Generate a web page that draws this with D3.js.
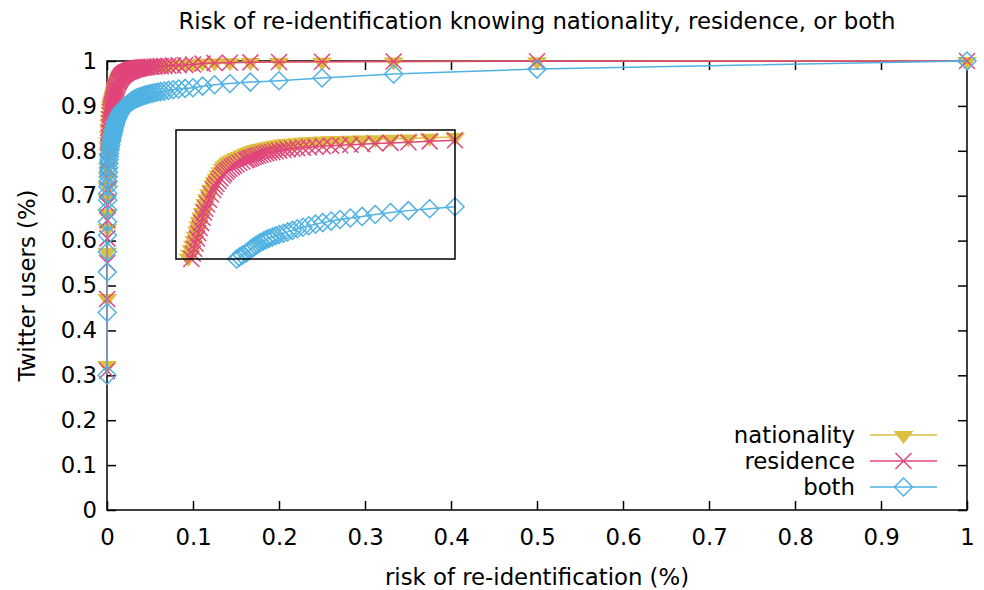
<!DOCTYPE html>
<html>
<head>
<meta charset="utf-8">
<script src="https://cdn.jsdelivr.net/npm/d3@7"></script>
<style>
  body { margin: 0; background: #fff; }
  svg text { font-family: "DejaVu Sans", sans-serif; }
</style>
</head>
<body>
<script>
// risk of re-identification levels (1 / size of anonymity set)
var riskLevels = [1, 0.5, 0.3333, 0.25, 0.2, 0.1667, 0.1429, 0.125, 0.1111, 0.1,
  0.0909, 0.0833, 0.0769, 0.0714, 0.0667, 0.0625, 0.0588, 0.0556, 0.0526, 0.05,
  0.0476, 0.0455, 0.0435, 0.0417, 0.04, 0.0385, 0.037, 0.0357, 0.0345, 0.0333,
  0.0323, 0.0313, 0.0303, 0.0294, 0.0286, 0.0278, 0.027, 0.0263, 0.0256, 0.025,
  0.0238, 0.0227, 0.0217, 0.0208, 0.02, 0.0192, 0.0185, 0.0179, 0.0172, 0.0167,
  0.0159, 0.0152, 0.0145, 0.0139, 0.0133, 0.0125, 0.0118, 0.0111, 0.0105, 0.01,
  0.0095, 0.009, 0.0085, 0.008, 0.0075, 0.007, 0.0065, 0.006, 0.0055, 0.005,
  0.0045, 0.004, 0.0035, 0.003, 0.0027, 0.0024, 0.0021, 0.0018, 0.0016, 0.0014,
  0.0012, 0.001, 0.0009, 0.0008, 0.0007, 0.0006, 0.0005, 0.0004, 0.0003, 0.0002,
  0.0001];

// share of twitter users at or below each risk level
var nationalityUsers = [1.0, 0.9995, 0.999, 0.9985, 0.998, 0.9975, 0.997, 0.9965, 0.996, 0.9945,
  0.994, 0.9935, 0.9932, 0.9929, 0.9926, 0.9924, 0.9922, 0.992, 0.9918, 0.9915,
  0.9912, 0.9908, 0.9905, 0.9902, 0.99, 0.9895, 0.989, 0.9885, 0.988, 0.9875,
  0.987, 0.9865, 0.986, 0.9855, 0.985, 0.9844, 0.9838, 0.9832, 0.9826, 0.982,
  0.981, 0.98, 0.979, 0.978, 0.977, 0.976, 0.9748, 0.9735, 0.972, 0.9705,
  0.968, 0.9655, 0.963, 0.9605, 0.958, 0.9545, 0.951, 0.947, 0.9435, 0.94,
  0.9365, 0.933, 0.9295, 0.926, 0.922, 0.918, 0.9145, 0.911, 0.9075, 0.904,
  0.901, 0.896, 0.889, 0.88, 0.87, 0.86, 0.848, 0.835, 0.822, 0.81,
  0.797, 0.785, 0.764, 0.742, 0.72, 0.695, 0.661, 0.628, 0.575, 0.472,
  0.323];

var residenceUsers = [1.0, 0.9993, 0.9988, 0.9982, 0.9976, 0.997, 0.9962, 0.9955, 0.9942, 0.992,
  0.9912, 0.9905, 0.99, 0.9895, 0.989, 0.9886, 0.9882, 0.9878, 0.9874, 0.987,
  0.9866, 0.9862, 0.9858, 0.9854, 0.985, 0.9845, 0.984, 0.9835, 0.983, 0.9825,
  0.982, 0.9814, 0.9808, 0.9802, 0.9796, 0.979, 0.9784, 0.9778, 0.9772, 0.9766,
  0.9756, 0.9746, 0.9735, 0.9724, 0.9712, 0.97, 0.9688, 0.9676, 0.9662, 0.9648,
  0.9625, 0.9605, 0.9582, 0.956, 0.9535, 0.95, 0.946, 0.9425, 0.939, 0.936,
  0.932, 0.928, 0.924, 0.92, 0.916, 0.912, 0.908, 0.904, 0.9, 0.896,
  0.891, 0.886, 0.879, 0.87, 0.862, 0.853, 0.842, 0.83, 0.818, 0.806,
  0.792, 0.776, 0.76, 0.74, 0.715, 0.68, 0.645, 0.605, 0.55, 0.47,
  0.31];

var bothUsers = [1.0, 0.982, 0.971, 0.962, 0.956, 0.953, 0.95, 0.947, 0.944, 0.9405,
  0.939, 0.9375, 0.936, 0.9345, 0.933, 0.9318, 0.9306, 0.9294, 0.9282, 0.927,
  0.9258, 0.9246, 0.9234, 0.9222, 0.921, 0.92, 0.919, 0.918, 0.917, 0.916,
  0.915, 0.914, 0.9128, 0.9116, 0.9104, 0.9092, 0.908, 0.9068, 0.9056, 0.9045,
  0.903, 0.9015, 0.9, 0.8985, 0.897, 0.8955, 0.894, 0.8925, 0.891, 0.8895,
  0.887, 0.8845, 0.882, 0.8795, 0.877, 0.874, 0.871, 0.868, 0.8645, 0.861,
  0.8575, 0.854, 0.85, 0.846, 0.842, 0.838, 0.834, 0.83, 0.825, 0.82,
  0.814, 0.808, 0.802, 0.794, 0.787, 0.78, 0.772, 0.762, 0.752, 0.742,
  0.732, 0.72, 0.705, 0.69, 0.668, 0.642, 0.612, 0.575, 0.53, 0.44,
  0.30];

var seriesNames = ["nationality", "residence", "both"];
var xTickValues = [0, 0.1, 0.2, 0.3, 0.4, 0.5, 0.6, 0.7, 0.8, 0.9, 1];
var yTickValues = [0, 0.1, 0.2, 0.3, 0.4, 0.5, 0.6, 0.7, 0.8, 0.9, 1];
var insetXDomain = [0, 0.1];
var insetYDomain = [0.9, 1];

var seriesColors = ["#dbbf3e", "#e0457b", "#4fb2e3"];
var seriesShapes = ["triangle", "cross", "diamond"];

var width = 984, height = 590;
var margin = { top: 61, right: 17, bottom: 80, left: 107 };
var fontSize = 22.8;

var svg = d3.select("body").append("svg")
    .attr("width", width)
    .attr("height", height);

var x = d3.scaleLinear().domain([0, 1]).range([margin.left, width - margin.right]);
var y = d3.scaleLinear().domain([0, 1]).range([height - margin.bottom, margin.top]);

// inset box
var ix = d3.scaleLinear().domain(insetXDomain).range([176, 455]);
var iy = d3.scaleLinear().domain(insetYDomain).range([259, 130]);

var fmt = d3.format("~g");

function markerPath(shape) {
  if (shape == "triangle") return "M-10,-4L10,-4L0,9Z";
  if (shape == "cross") return "M-8,-8L8,8M-8,8L8,-8";
  return "M-9,0L0,-9L9,0L0,9Z";
}

function styleMarker(sel, i) {
  sel.attr("d", markerPath(seriesShapes[i]))
    .attr("fill", seriesShapes[i] == "triangle" ? seriesColors[i] : "none")
    .attr("stroke", seriesShapes[i] == "triangle" ? "none" : seriesColors[i])
    .attr("stroke-width", 1.5);
}

var seriesData = [nationalityUsers, residenceUsers, bothUsers].map(function (vals) {
  return riskLevels.map(function (r, j) { return { risk: r, users: vals[j] }; });
});

// axes (ticks point inward, mirrored)
function styleAxis(g) {
  g.select(".domain").remove();
  g.selectAll(".tick line").attr("stroke", "#000").attr("stroke-width", 1.5);
  g.selectAll(".tick text").attr("fill", "#000")
    .style("font-family", "'DejaVu Sans', sans-serif")
    .style("font-size", fontSize + "px");
}

svg.append("g")
    .attr("transform", "translate(0," + y(0) + ")")
    .call(d3.axisBottom(x).tickValues(xTickValues).tickFormat(fmt)
      .tickSizeInner(-9).tickSizeOuter(0).tickPadding(19))
    .call(styleAxis);

svg.append("g")
    .attr("transform", "translate(0," + y(1) + ")")
    .call(d3.axisTop(x).tickValues(xTickValues).tickFormat("")
      .tickSizeInner(-9).tickSizeOuter(0))
    .call(styleAxis);

svg.append("g")
    .attr("transform", "translate(" + x(0) + ",0)")
    .call(d3.axisLeft(y).tickValues(yTickValues).tickFormat(fmt)
      .tickSizeInner(-9).tickSizeOuter(0).tickPadding(10))
    .call(styleAxis);

svg.append("g")
    .attr("transform", "translate(" + x(1) + ",0)")
    .call(d3.axisRight(y).tickValues(yTickValues).tickFormat("")
      .tickSizeInner(-9).tickSizeOuter(0))
    .call(styleAxis);

svg.append("rect")
    .attr("x", x(0)).attr("y", y(1))
    .attr("width", x(1) - x(0)).attr("height", y(0) - y(1))
    .attr("fill", "none").attr("stroke", "#000").attr("stroke-width", 1.5);

// main curves
var line = d3.line().x(d => x(d.risk)).y(d => y(d.users));

seriesData.forEach(function (data, i) {
  svg.append("path")
      .datum(data)
      .attr("d", line)
      .attr("fill", "none")
      .attr("stroke", seriesColors[i])
      .attr("stroke-width", 1.5);

  svg.selectAll(".pt" + i)
      .data(data)
      .enter()
      .append("path")
      .attr("class", "pt" + i)
      .attr("transform", d => "translate(" + x(d.risk) + "," + y(d.users) + ")")
      .call(styleMarker, i);
});

// inset zoom on the knee
svg.append("clipPath").attr("id", "insetClip")
  .append("rect")
    .attr("x", ix(0)).attr("y", iy(1))
    .attr("width", ix(0.1) - ix(0)).attr("height", iy(0.9) - iy(1));

var insetLine = d3.line().x(d => ix(d.risk)).y(d => iy(d.users));

seriesData.forEach(function (data, i) {
  svg.append("path")
      .datum(data)
      .attr("d", insetLine)
      .attr("clip-path", "url(#insetClip)")
      .attr("fill", "none")
      .attr("stroke", seriesColors[i])
      .attr("stroke-width", 1.5);

  var inRange = data.filter(d => d.risk >= insetXDomain[0] && d.risk <= insetXDomain[1] &&
                                 d.users >= insetYDomain[0] && d.users <= insetYDomain[1]);
  svg.selectAll(".ipt" + i)
      .data(inRange)
      .enter()
      .append("path")
      .attr("class", "ipt" + i)
      .attr("transform", d => "translate(" + ix(d.risk) + "," + iy(d.users) + ")")
      .call(styleMarker, i);
});

svg.append("rect")
    .attr("x", ix(0)).attr("y", iy(1))
    .attr("width", ix(0.1) - ix(0)).attr("height", iy(0.9) - iy(1))
    .attr("fill", "none").attr("stroke", "#000").attr("stroke-width", 1.5);

// legend
var legend = svg.append("g");
seriesNames.forEach(function (name, i) {
  var ly = 435 + i * 26;
  legend.append("text")
      .attr("x", 855).attr("y", ly).attr("dy", "0.36em")
      .attr("text-anchor", "end")
      .style("font-size", fontSize + "px")
      .text(name);
  legend.append("line")
      .attr("x1", 870).attr("x2", 937).attr("y1", ly).attr("y2", ly)
      .attr("stroke", seriesColors[i]).attr("stroke-width", 1.5);
  legend.append("path")
      .attr("transform", "translate(903.5," + ly + ")")
      .call(styleMarker, i);
});

// titles
svg.append("text")
    .attr("x", (x(0) + x(1)) / 2).attr("y", 29)
    .attr("text-anchor", "middle")
    .style("font-size", fontSize + "px")
    .text("Risk of re-identification knowing nationality, residence, or both");

svg.append("text")
    .attr("x", (x(0) + x(1)) / 2).attr("y", 585)
    .attr("text-anchor", "middle")
    .style("font-size", fontSize + "px")
    .text("risk of re-identification (%)");

svg.append("text")
    .attr("transform", "translate(35," + (y(0) + y(1)) / 2 + ") rotate(-90)")
    .attr("text-anchor", "middle")
    .style("font-size", fontSize + "px")
    .text("Twitter users (%)");
</script>
</body>
</html>
